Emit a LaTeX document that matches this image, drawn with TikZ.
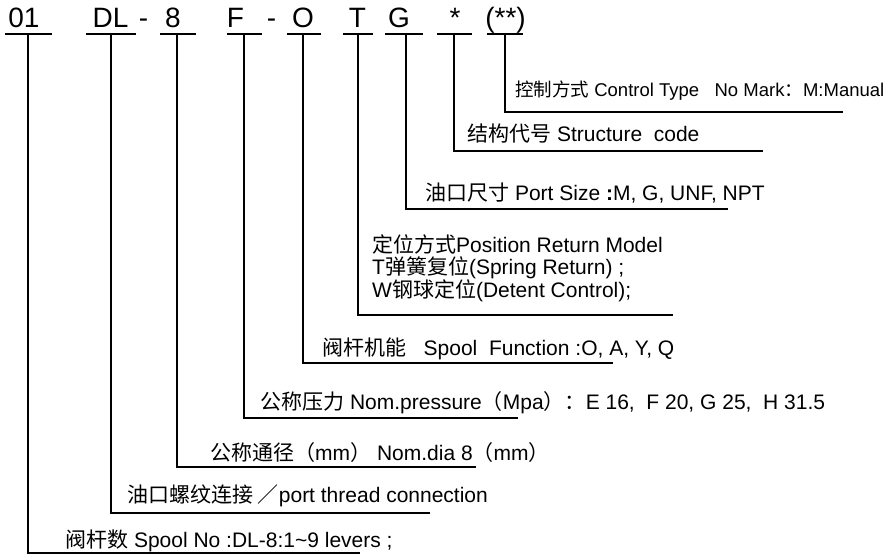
\documentclass[tikz,border=0pt]{standalone}
\usepackage{fontspec}
\setmainfont{Liberation Sans}
\newfontfamily\cjk{Noto Sans CJK SC}
\newcommand{\zhtext}[1]{{\cjk #1}}
\usetikzlibrary{calc}

\begin{document}
\begin{tikzpicture}[x=1pt,y=-1pt,
    codetext/.style={anchor=base,inner sep=0pt,font=\fontsize{28}{30}\selectfont},
    desc/.style={anchor=base west,inner sep=0pt,font=\fontsize{21}{22}\selectfont},
    leader/.style={line width=1.7pt}]
    \useasboundingbox (0,0) rectangle (889,556);
    % model code
    \node[codetext] (n01) at (24,28) {01};
    \node[codetext] (nDL) at (110.5,28) {DL};
    \node[codetext] (h1) at (143.5,28) {-};
    \node[codetext] (n8) at (173,28) {8};
    \node[codetext] (nF) at (235.5,28) {F};
    \node[codetext] (h2) at (271.5,28) {-};
    \node[codetext] (nO) at (303,28) {O};
    \node[codetext] (nT) at (357.5,28) {T};
    \node[codetext] (nG) at (399,28) {G};
    \node[codetext] (nS) at (455,28) {*};
    \node[codetext] (nC) at (505.5,28) {(**)};
    \draw[leader] (5,34) -- (52,34);
    \draw[leader] (86,34) -- (136,34);
    \draw[leader] (160,34) -- (196,34);
    \draw[leader] (227,34) -- (262,34);
    \draw[leader] (287,34) -- (321,34);
    \draw[leader] (343,34) -- (373,34);
    \draw[leader] (385,34) -- (423,34);
    \draw[leader] (437,34) -- (472,34);
    \draw[leader] (487,34) -- (523,34);
    % descriptions
    \node[desc] (d01) at (65,547) {\zhtext{阀杆数} Spool No :DL-8:1\textasciitilde9 levers ;};
    \node[desc] (dDL) at (127,502) {\zhtext{油口螺纹连接 ／}port thread connection};
    \node[desc] (d8) at (210,460) {\zhtext{公称通径（}mm\zhtext{）} Nom.dia 8\zhtext{（}mm\zhtext{）}};
    \node[desc] (dF) at (260,409) {\zhtext{公称压力} Nom.pressure\zhtext{（}Mpa\zhtext{）：}E 16,\ \ F 20, G 25,\ \ H 31.5};
    \node[desc] (dO) at (322,355) {\zhtext{阀杆机能}\ \ \ Spool\ \ Function :O, A, Y, Q};
    \node[desc,align=left] (dT) at (372,298) {\zhtext{定位方式}Position Return Model\\T\zhtext{弹簧复位}(Spring Return) ;\\W\zhtext{钢球定位}(Detent Control);};
    \node[desc] (dG) at (425,201) {\zhtext{油口尺寸} Port Size\ \textbf{:}M, G, UNF, NPT};
    \node[desc] (dS) at (467,142) {\zhtext{结构代号} Structure\ \ code};
    \node[desc,font=\fontsize{18.5}{20}\selectfont] (dC) at (515,97) {\zhtext{控制方式} Control Type\ \ \ No Mark\zhtext{：}M:Manual};
    % leader lines
    \coordinate (u01) at (28,34);  \coordinate (e01) at (360,553);
    \coordinate (uDL) at (111,34); \coordinate (eDL) at (430,513);
    \coordinate (u8) at (177,34);  \coordinate (e8) at (476,467);
    \coordinate (uF) at (244,34);  \coordinate (eF) at (518,418);
    \coordinate (uO) at (303,34);  \coordinate (eO) at (613,363);
    \coordinate (uT) at (358,34);  \coordinate (eT) at (673,315);
    \coordinate (uG) at (406,34);  \coordinate (eG) at (728,209);
    \coordinate (uS) at (454,34);  \coordinate (eS) at (763,151);
    \coordinate (uC) at (505,34);  \coordinate (eC) at (843,112);
    \draw[leader] (u01) |- (e01);
    \draw[leader] (uDL) |- (eDL);
    \draw[leader] (u8) |- (e8);
    \draw[leader] (uF) |- (eF);
    \draw[leader] (uO) |- (eO);
    \draw[leader] (uT) |- (eT);
    \draw[leader] (uG) |- (eG);
    \draw[leader] (uS) |- (eS);
    \draw[leader] (uC) |- (eC);
\end{tikzpicture}
\end{document}
